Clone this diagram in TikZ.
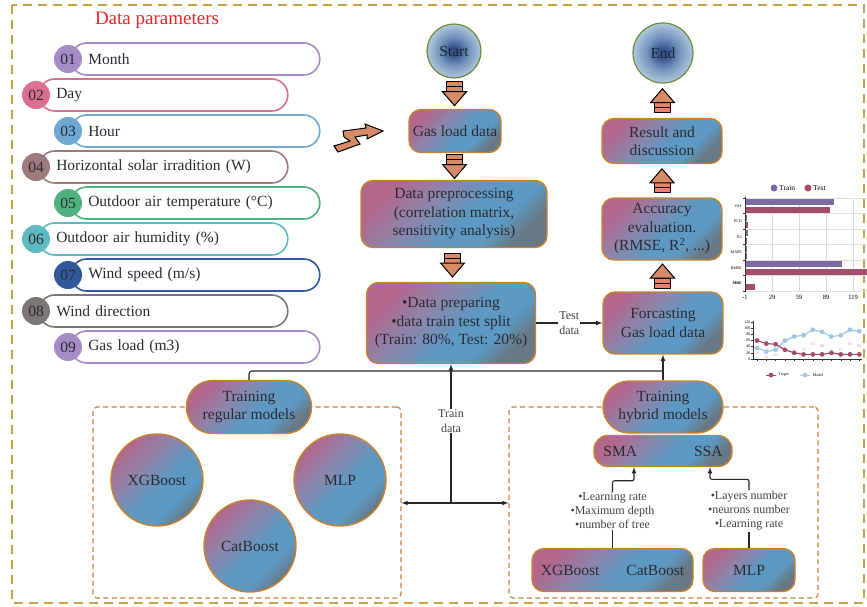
\documentclass[tikz,border=0pt]{standalone}
\usepackage{fontspec}
\setmainfont{Liberation Serif}
\usetikzlibrary{arrows,calc}
\definecolor{gpink}{HTML}{B2678B}
\definecolor{gmauve}{HTML}{8D85AB}
\definecolor{gblue}{HTML}{5D99C2}
\definecolor{ggray}{HTML}{687884}
\definecolor{endin}{HTML}{34548A}
\definecolor{endmid}{HTML}{7090BA}
\definecolor{endout}{HTML}{B0C8DE}
\pgfdeclarehorizontalshading{boxgrad}{100bp}{color(0bp)=(gpink); color(25bp)=(gpink); color(40bp)=(gmauve); color(54bp)=(gblue); color(66bp)=(gblue); color(75bp)=(ggray); color(100bp)=(ggray)}
\pgfdeclareradialshading{endgrad}{\pgfpoint{0bp}{0bp}}{color(0bp)=(endin); color(4bp)=(endin); color(13bp)=(endmid); color(25bp)=(endout); color(50bp)=(endout)}
\newcommand{\boxlw}{1.4pt}
\newcommand{\boxfont}{\fontsize{15.5}{18.5}\selectfont}
\newcommand{\labfont}{\fontsize{12}{14.5}\selectfont}
\newcommand{\hpfont}{\fontsize{12}{14}\selectfont}
\newcommand{\headfont}{\fontsize{19}{22}\selectfont}
\newcommand{\chartleg}{\fontsize{7.5}{8}\selectfont}
\newcommand{\charttick}{\fontsize{6.5}{7}\selectfont}
\newcommand{\chartcat}{\fontsize{4}{5}\selectfont}
\newcommand{\chartmini}{\fontsize{4}{5}\selectfont}
\tikzset{
    flowsty/.style={draw=boxborder, line width=\boxlw, shade, shading=boxgrad, shading angle=-45, rounded corners=12pt, align=center, font=\boxfont, text=txtc, inner sep=2pt},
    pillsty/.style={flowsty, rounded corners=26pt},
    modsty/.style={flowsty, circle, minimum size=92pt},
    endsty/.style={circle, draw=olivec, line width=1.2pt, shade, shading=endgrad, font=\boxfont, text=endtxt},
    parsty/.style={draw=#1, line width=1.6pt, rounded corners=16pt, minimum height=32pt, text width=214pt, inner xsep=17.5pt, align=left, anchor=west, font=\boxfont, text=txtc},
    numsty/.style={circle, fill=#1, minimum size=28pt, inner sep=0pt, font=\boxfont, text=txtc},
    dashsty/.style={draw=dashc, line width=1.2pt, dash pattern=on 5pt off 3.5pt, rounded corners=4pt, inner sep=0pt},
    framesty/.style={draw=framec, line width=1.6pt, dash pattern=on 9pt off 6pt},
    titlesty/.style={font=\headfont, text=titlec},
    linesty/.style={line width=1.1pt, draw=black!85},
    labsty/.style={fill=white, font=\labfont, text=black!75, align=center, inner sep=1pt},
    hpsty/.style={font=\hpfont, text=black!75, align=center, inner sep=1pt},
    fatsty/.style={draw=black, fill=arrowc, line width=1pt, line join=miter},
    fatarrow/.pic={
        \draw[fatsty] (-8,-12) rectangle (8,-7);
        \draw[fatsty] (-8,-7) rectangle (8,-2);
        \draw[fatsty] (-12,-2) -- (12,-2) -- (0,12) -- cycle;
    },
}
\definecolor{boxborder}{HTML}{C8832F}
\definecolor{txtc}{HTML}{2A2A33}
\definecolor{endtxt}{HTML}{1A2233}
\definecolor{olivec}{HTML}{6E8B3D}
\definecolor{arrowc}{HTML}{D68A66}
\definecolor{framec}{HTML}{C8A048}
\definecolor{dashc}{HTML}{C98040}
\definecolor{titlec}{HTML}{E8262A}
\definecolor{trainc}{HTML}{7E6AA3}
\definecolor{testc}{HTML}{A44F69}
\definecolor{modelc}{HTML}{A3C6E6}
\definecolor{targetc}{HTML}{A34B68}
\definecolor{labc}{HTML}{F08A96}
\definecolor{monthc}{HTML}{A68CC6}
\definecolor{dayc}{HTML}{DA6F8E}
\definecolor{hourc}{HTML}{6EA9D3}
\definecolor{solarc}{HTML}{9D7A7B}
\definecolor{tempc}{HTML}{4FB17F}
\definecolor{humc}{HTML}{5DB9C2}
\definecolor{windsc}{HTML}{30599B}
\definecolor{winddc}{HTML}{7B7775}
\colorlet{loadc}{monthc}

\begin{document}
\begin{tikzpicture}[x=1pt, y=-1pt, >=latex]
  \useasboundingbox (0,0) rectangle (867,606);
  \draw[framesty] (12,5) rectangle (864,603);

  \node[titlesty] (title) at (157,20) {Data parameters};
  \foreach \num/\txt/\col/\xo [count=\i] in {01/Month/monthc/70, 02/Day/dayc/38, 03/Hour/hourc/70, 04/Horizontal solar irradition (W)/solarc/38, 05/Outdoor air temperature (°C)/tempc/70, 06/Outdoor air humidity (\%)/humc/38, 07/{Wind speed (m/s)}/windsc/70, 08/Wind direction/winddc/38, 09/Gas load (m3)/loadc/70}
  {
    \node[parsty=\col] (par\num) at (\xo,23+36*\i) {\txt};
    \node[numsty=\col] (num\num) at (\xo-2,23+36*\i) {\num};
  }

  \node[endsty, minimum size=54pt] (start) at (454,51) {Start};
  \node[endsty, minimum size=60pt] (end) at (663,53) {End};
  \node[flowsty, minimum width=92pt, minimum height=43pt] (gas) at (455,131) {Gas load data};
  \node[flowsty, minimum width=186pt, minimum height=67pt] (preproc) at (454,214) {Data preprocessing\\(correlation matrix,\\sensitivity analysis)};
  \node[flowsty, minimum width=169pt, minimum height=81pt] (prep) at (451,323) {\textbullet Data preparing\\\textbullet data train test split\\(Train: 80\%, Test: 20\%)};
  \node[flowsty, minimum width=120pt, minimum height=45pt] (result) at (662,141) {Result and\\discussion};
  \node[flowsty, minimum width=120pt, minimum height=62pt] (acc) at (662,229) {Accuracy\\evaluation.\\(RMSE, R\textsuperscript{2}, ...)};
  \node[flowsty, minimum width=120pt, minimum height=62pt] (forc) at (663,323) {Forcasting\\Gas load data};

  \node[dashsty, minimum width=308pt, minimum height=191pt] (regbox) at (247,502.5) {};
  \node[dashsty, minimum width=309pt, minimum height=191pt] (hybbox) at (663.5,502.5) {};
  \node[pillsty, minimum width=125pt, minimum height=53pt] (trreg) at (249,407) {Training\\regular models};
  \node[pillsty, minimum width=120pt, minimum height=52pt] (trhyb) at (663,407) {Training\\hybrid models};

  \node[modsty] (xgb) at (157,480) {XGBoost};
  \node[modsty] (mlp) at (340,480) {MLP};
  \node[modsty] (cat) at (250,546) {CatBoost};

  \node[flowsty, rounded corners=14pt, minimum width=138pt, minimum height=31pt] (smassa) at (663,451) {SMA\hspace{57pt}SSA};
  \node[flowsty, minimum width=161pt, minimum height=43pt] (xgbcat) at (612.5,570) {XGBoost\hspace{27pt}CatBoost};
  \node[flowsty, minimum width=92pt, minimum height=43pt] (mlph) at (749,570) {MLP};
  \node[hpsty] (hpl) at (612.5,511) {\textbullet Learning rate\\\textbullet Maximum depth\\\textbullet number of tree};
  \node[hpsty] (hpr) at (749,511) {\textbullet Layers number\\\textbullet neurons number\\\textbullet Learning rate};

  \pic at ($(start.south)!0.5!(gas.north)$) {fatarrow};
  \pic at ($(gas.south)!0.5!(preproc.north)$) {fatarrow};
  \pic at ($(preproc.south)!0.5!(prep.north)$) {fatarrow};
  \pic[rotate=180] at ($(result.north)!0.5!(end.south)$) {fatarrow};
  \pic[rotate=180] at ($(acc.north)!0.5!(result.south)$) {fatarrow};
  \pic[rotate=180] at ($(forc.north)!0.5!(acc.south)$) {fatarrow};
  \draw[fatsty] (343,131) -- (366,128) -- (365,124) -- (383,131) -- (367,139) -- (367,135) -- (355,137) -- (360,144) -- (338,152) -- (334,146) -- (350,141) -- (344,137) -- cycle;

  \coordinate (bus) at (663,371);
  \coordinate (tsplit) at (451,503);
  \draw[linesty,->] (prep.east) -- node[labsty]{Test\\data} (forc.west);
  \draw[linesty,rounded corners=3pt] (trreg.north) |- (bus);
  \draw[linesty,->] (trhyb.north) -- (forc.south);
  \draw[linesty,->] (tsplit) -- node[labsty, pos=0.59]{Train\\data} (prep.south);
  \draw[linesty,<->] (regbox.east |- tsplit) -- (hybbox.west |- tsplit);
  \draw[linesty] (xgbcat.north) -- (hpl.south);
  \draw[linesty,->,rounded corners=2pt] (hpl.north) -- ++(0,-11) -| ([xshift=-29pt]smassa.south);
  \draw[linesty] (mlph.north) -- (hpr.south);
  \draw[linesty,->,rounded corners=2pt] (hpr.north) -- ++(0,-11) -| ([xshift=47pt]smassa.south);

  \foreach \j in {1,...,4} \draw[gray!30, line width=0.4pt] ({745+27*\j},198) -- ({745+27*\j},291);
  \foreach \k in {0,...,6} \draw[gray!25, line width=0.4pt] (745,{198+15.5*\k}) -- (867,{198+15.5*\k});
  \foreach \cat/\tr/\te [count=\k] in {VAF/98/93, PCD/1.6/1.8, R2/1.8/1.3, MAPE/1.2/1.3, RMSE/107/140, \textbf{MBE}/0.5/10}
  {
    \fill[trainc] (745,{183.5+15.5*\k}) rectangle ({745+0.9*(\tr+1)},{189.5+15.5*\k});
    \fill[testc] (745,{191+15.5*\k}) rectangle ({745+0.9*(\te+1)},{197+15.5*\k});
    \node[anchor=east, font=\chartcat, inner sep=0pt] (cat\k) at (742,{190.25+15.5*\k}) {\cat};
  }
  \draw[black!80, line width=0.6pt] (745,197) -- (745,292);
  \foreach \k in {0,...,6} \draw[black!80, line width=0.5pt] (743,{198+15.5*\k}) -- (745,{198+15.5*\k});
  \foreach \t [count=\j from 0] in {-1,29,59,89,119} \node[font=\charttick, inner sep=0pt] at ({745+27*\j},297) {\t};
  \fill[trainc] (774,188) circle (3.5pt);
  \node[anchor=west, font=\chartleg, inner sep=1pt] (legtr) at (778,188) {Train};
  \fill[testc] (808,188) circle (3.5pt);
  \node[anchor=west, font=\chartleg, inner sep=1pt] (legte) at (812,188) {Test};

  \draw[black!80, line width=0.5pt] (753,321) -- (753,359) -- (862,359);
  \foreach \v in {0,20,...,120}
  {
    \draw[black!80, line width=0.4pt] (751,{359-0.308*\v}) -- (753,{359-0.308*\v});
    \node[anchor=east, font=\chartmini, inner sep=0.5pt] at (751,{359-0.308*\v}) {\v};
  }
  \begin{scope}[shift={(757,359)}, x=9.3pt, y=0.308pt]
    \foreach \i in {0,...,11} \draw[black!80, line width=0.4pt] (\i,0) -- (\i,-6);
    \draw[modelc, line width=1.2pt] plot coordinates {(0,36) (1,24) (2,30) (3,60) (4,73) (5,77) (6,95) (7,88) (8,73) (9,77) (10,95) (11,90)};
    \draw[targetc, line width=1.2pt] plot coordinates {(0,60) (1,50) (2,48) (3,30) (4,20) (5,15) (6,15) (7,15) (8,20) (9,15) (10,15) (11,15)};
    \foreach \v [count=\i from 0] in {36,24,30,60,73,77,95,88,73,77,95,90} \fill[modelc] (\i,\v) circle (2.4pt);
    \foreach \v [count=\i from 0] in {60,50,48,30,20,15,15,15,20,15,15,15} \fill[targetc] (\i,\v) circle (2.4pt);
    \foreach \i/\v/\o in {0/36/16, 1/24/18, 2/30/16, 4/73/48, 5/77/48, 6/95/48, 7/88/48, 8/73/48, 9/77/48, 10/95/48, 11/90/48}
      \node[font=\chartmini, text=labc, inner sep=0pt] at (\i,\v-\o) {\v};
  \end{scope}
  \draw[targetc, line width=1pt] (766,375) -- (776,375);
  \fill[targetc] (771,375) circle (2.4pt);
  \node[anchor=west, font=\chartmini, inner sep=0.5pt] (legtg) at (778,375) {Target};
  \draw[modelc, line width=1pt] (800,375) -- (810,375);
  \fill[modelc] (805,375) circle (2.4pt);
  \node[anchor=west, font=\chartmini, inner sep=0.5pt] (legmd) at (812,375) {Model};
\end{tikzpicture}
\end{document}
